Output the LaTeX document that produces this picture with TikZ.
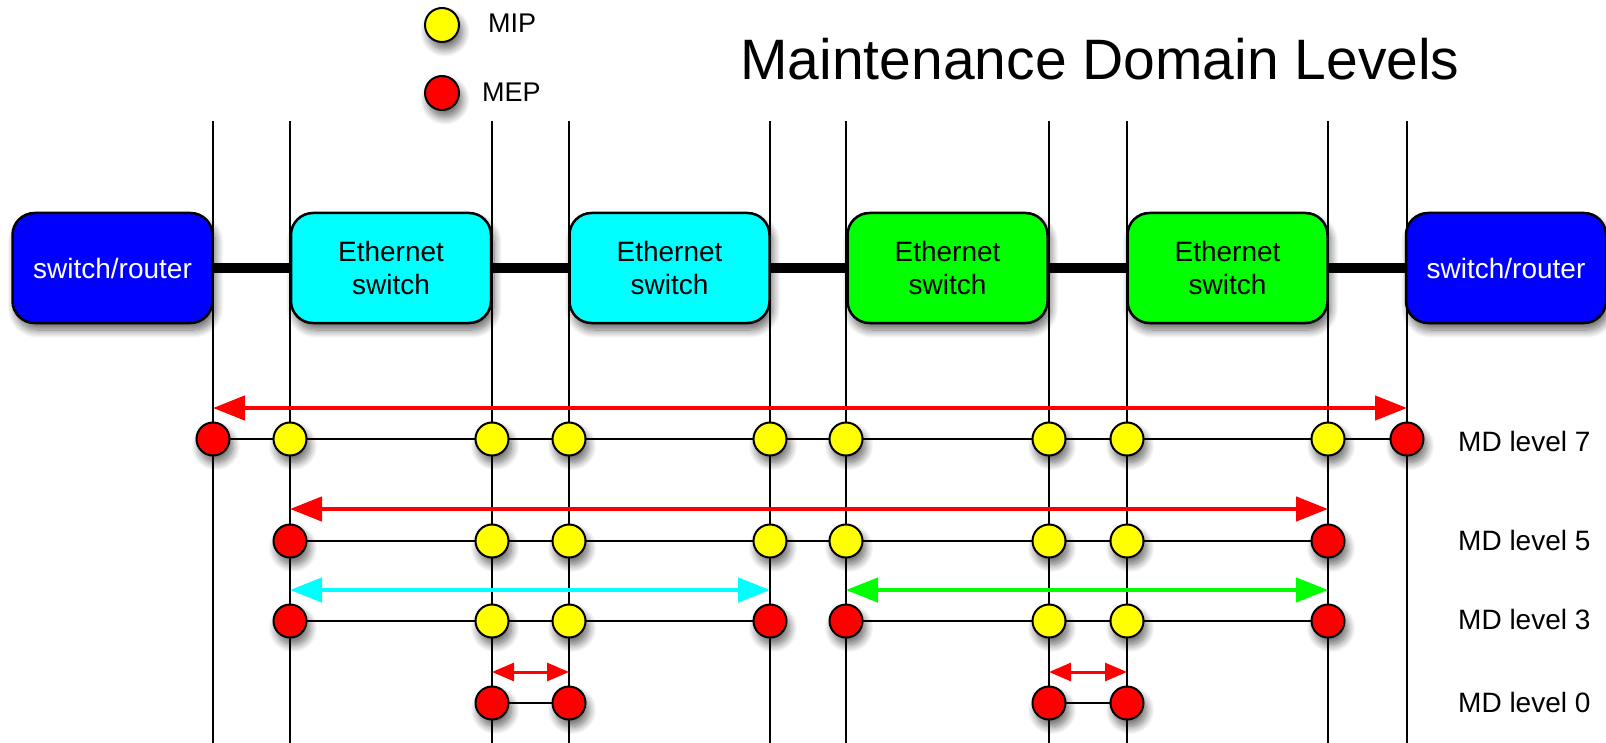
\documentclass[tikz,border=0pt]{standalone}
\usepackage{fontspec}
\setmainfont{Liberation Sans}
\usetikzlibrary{shadows.blur,arrows.meta}
\pgfdeclarelayer{bg}
\pgfsetlayers{bg,main}
\definecolor{myblue}{RGB}{0,0,255}
\definecolor{mycyan}{RGB}{0,255,255}
\definecolor{mygreen}{RGB}{0,255,0}
\definecolor{myred}{RGB}{255,0,0}
\definecolor{myyellow}{RGB}{255,255,0}
\begin{document}
\begin{tikzpicture}[x=1pt,y=-1pt,
  shad/.style={blur shadow={shadow xshift=3pt, shadow yshift=-7pt, shadow blur radius=8pt, shadow blur steps=12, shadow opacity=60}},
  box/.style={draw, line width=2.5pt, rounded corners=22pt, minimum width=200pt, minimum height=110pt, inner sep=0pt, align=center, font=\fontsize{28}{33}\selectfont, shad},
  dot/.style={circle, draw, line width=2pt, minimum size=33pt, inner sep=0pt, shad},
  mep/.style={dot, fill=myred},
  mip/.style={dot, fill=myyellow},
  vline/.style={line width=2pt},
  hline/.style={line width=2pt},
  bigarrow/.style={line width=4.5pt, {Triangle[length=32pt,width=24pt]}-{Triangle[length=32pt,width=24pt]}},
  smallarrow/.style={line width=3pt, myred, {Triangle[length=22pt,width=18pt]}-{Triangle[length=22pt,width=18pt]}},
  lbl/.style={font=\fontsize{28}{33}\selectfont, inner sep=0pt, anchor=base west}
]
\useasboundingbox (0,0) rectangle (1606,743);

% vertical line end points
\foreach \n/\x in {1/213,2/290,3/492,4/569,5/770,6/846,7/1049,8/1127,9/1328,10/1407}{
  \coordinate (t\n) at (\x,121);
  \coordinate (b\n) at (\x,743);
}

% title and legend
\node[font=\fontsize{57}{60}\selectfont, inner sep=0pt, anchor=base] (title) at (1100,80) {Maintenance Domain Levels};
\node[mip, minimum size=34pt] (legmip) at (442,25) {};
\node[mep, minimum size=34pt] (legmep) at (442,93) {};
\node[font=\fontsize{27}{30}\selectfont, inner sep=0pt, anchor=base west] (mipt) at (488,33) {MIP};
\node[font=\fontsize{27}{30}\selectfont, inner sep=0pt, anchor=base west] (mept) at (482,102) {MEP};

% boxes
\node[box, fill=myblue, text=white] (sw1) at (112.5,268) {switch/router};
\node[box, fill=mycyan] (es1) at (391,268) {Ethernet\\switch};
\node[box, fill=mycyan] (es2) at (669.5,268) {Ethernet\\switch};
\node[box, fill=mygreen] (es3) at (947.5,268) {Ethernet\\switch};
\node[box, fill=mygreen] (es4) at (1227.5,268) {Ethernet\\switch};
\node[box, fill=myblue, text=white] (sw2) at (1506,268) {switch/router};

% level 7
\foreach \i/\x/\s in {1/213/mep,2/290/mip,3/492/mip,4/569/mip,5/770/mip,6/846/mip,7/1049/mip,8/1127/mip,9/1328/mip,10/1407/mep}{
  \node[\s] (r7-\i) at (\x,439) {};
}
% level 5
\foreach \i/\x/\s in {2/290/mep,3/492/mip,4/569/mip,5/770/mip,6/846/mip,7/1049/mip,8/1127/mip,9/1328/mep}{
  \node[\s] (r5-\i) at (\x,541) {};
}
% level 3
\foreach \i/\x/\s in {2/290/mep,3/492/mip,4/569/mip,5/770/mep,6/846/mep,7/1049/mip,8/1127/mip,9/1328/mep}{
  \node[\s] (r3-\i) at (\x,621) {};
}
% level 0
\foreach \i/\x in {3/492,4/569,7/1049,8/1127}{
  \node[mep] (r0-\i) at (\x,703) {};
}

% arrows
\coordinate (a7l) at (213,408); \coordinate (a7r) at (1407,408);
\coordinate (a5l) at (290,509); \coordinate (a5r) at (1328,509);
\coordinate (a3al) at (290,590); \coordinate (a3ar) at (770,590);
\coordinate (a3bl) at (846,590); \coordinate (a3br) at (1328,590);
\coordinate (a0al) at (492,672); \coordinate (a0ar) at (569,672);
\coordinate (a0bl) at (1049,672); \coordinate (a0br) at (1127,672);
\draw[bigarrow, myred] (a7l) -- (a7r);
\draw[bigarrow, myred] (a5l) -- (a5r);
\draw[bigarrow, mycyan] (a3al) -- (a3ar);
\draw[bigarrow, mygreen] (a3bl) -- (a3br);
\draw[smallarrow] (a0al) -- (a0ar);
\draw[smallarrow] (a0bl) -- (a0br);

% labels
\node[lbl] (l7) at (1458,451) {MD level 7};
\node[lbl] (l5) at (1458,550) {MD level 5};
\node[lbl] (l3) at (1458,629) {MD level 3};
\node[lbl] (l0) at (1458,712) {MD level 0};

% background: lines behind nodes
\begin{pgfonlayer}{bg}
\foreach \n in {1,...,10}{
  \draw[vline] (t\n) -- (b\n);
}
\draw[line width=10pt] (sw1.center) -- (sw2.center);
\draw[hline] (r7-1.center) -- (r7-10.center);
\draw[hline] (r5-2.center) -- (r5-9.center);
\draw[hline] (r3-2.center) -- (r3-5.center);
\draw[hline] (r3-6.center) -- (r3-9.center);
\draw[hline] (r0-3.center) -- (r0-4.center);
\draw[hline] (r0-7.center) -- (r0-8.center);
\end{pgfonlayer}
\end{tikzpicture}
\end{document}
